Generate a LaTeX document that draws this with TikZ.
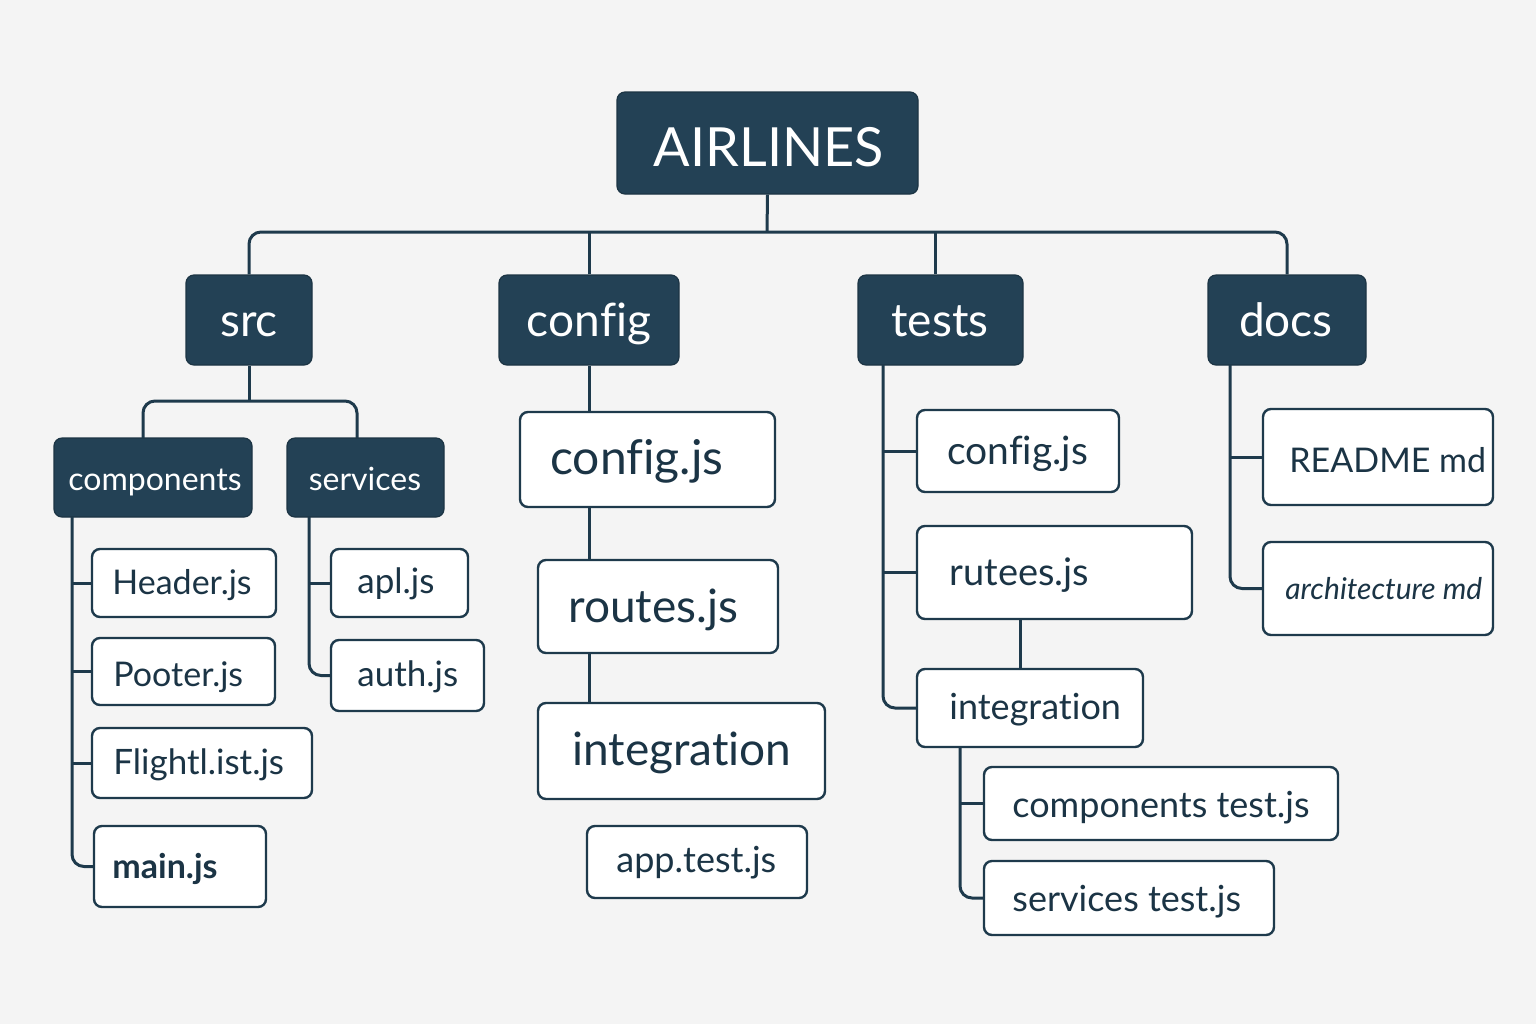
\documentclass[tikz,border=0pt]{standalone}
\usepackage{fontspec}
\setmainfont{Lato}[Ligatures=NoCommon]
\definecolor{bg}{HTML}{F4F4F4}
\definecolor{navy}{HTML}{234155}
\definecolor{ink}{HTML}{1B3445}
\definecolor{wire}{HTML}{1E3A4C}
\tikzset{
  darkbox/.style={fill=navy, draw=navy!80!black, line width=0.6pt, rounded corners=4pt, inner sep=0pt},
  leafbox/.style={fill=white, draw=wire, line width=1.2pt, rounded corners=4pt, inner sep=0pt},
  conn/.style={draw=wire, line width=1.5pt},
  rconn/.style={conn, rounded corners=6pt},
}
\newcommand\bx[6]{%
  \pgfmathsetmacro\bw{(#5-#3)*0.5}\pgfmathsetmacro\bh{(#6-#4)*0.5}%
  \node[#1, minimum width=\bw pt, minimum height=\bh pt] (#2) at ({(#3+#5)/2},{(#4+#6)/2}) {};}
\newcommand\tx[7]{%
  \node[anchor=#2, inner sep=0pt, text=#7, font=\fontsize{#5}{#5}\selectfont] (#1) at (#3,#4) {#6};}
\begin{document}
\begin{tikzpicture}[x=0.5pt,y=-0.5pt]
\useasboundingbox (0,0) rectangle (1536,1024);
\fill[bg] (0,0) rectangle (1536,1024);
% boxes
\bx{darkbox}{root}{617}{92}{918}{194}
\bx{darkbox}{src}{186}{275}{312}{365}
\bx{darkbox}{config}{499}{275}{679}{365}
\bx{darkbox}{tests}{858}{275}{1023}{365}
\bx{darkbox}{docs}{1208}{275}{1366}{365}
\bx{darkbox}{comp}{54}{438}{252}{517}
\bx{darkbox}{serv}{287}{438}{444}{517}
\bx{leafbox}{header}{92}{549}{276}{617}
\bx{leafbox}{pooter}{92}{638}{275}{705}
\bx{leafbox}{flight}{92}{728}{312}{798}
\bx{leafbox}{mainjs}{94}{826}{266}{907}
\bx{leafbox}{apl}{331}{549}{468}{617}
\bx{leafbox}{auth}{331}{640}{484}{711}
\bx{leafbox}{cfgjs}{520}{412}{775}{507}
\bx{leafbox}{routes}{538}{560}{778}{653}
\bx{leafbox}{cint}{538}{703}{825}{799}
\bx{leafbox}{apptest}{587}{826}{807}{898}
\bx{leafbox}{tcfg}{917}{410}{1119}{492}
\bx{leafbox}{trut}{917}{526}{1192}{619}
\bx{leafbox}{tint}{917}{669}{1143}{747}
\bx{leafbox}{cts}{984}{767}{1338}{840}
\bx{leafbox}{sts}{984}{861}{1274}{935}
\bx{leafbox}{readme}{1263}{409}{1493}{505}
\bx{leafbox}{arch}{1263}{542}{1493}{635}
% texts
\tx{roott}{base}{769}{166}{27}{AIRLINES}{white}
\tx{srct}{base}{249}{336}{23}{src}{white}
\tx{configt}{base}{589}{336}{23}{config}{white}
\tx{testst}{base}{940}{336}{23}{tests}{white}
\tx{docst}{base}{1286}{336}{23}{docs}{white}
\tx{compt}{base}{155}{490}{16}{components}{white}
\tx{servt}{base}{365}{490}{16}{services}{white}
\tx{headert}{base west}{112}{594}{17}{Header.js}{ink}
\tx{pootert}{base west}{113}{686}{17}{Pooter.js}{ink}
\tx{flightt}{base west}{113}{774}{17.5}{Flightl.ist.js}{ink}
\tx{maint}{base west}{112}{878}{17}{\bfseries main.js}{ink}
\tx{aplt}{base west}{357}{593}{17.5}{apl.js}{ink}
\tx{autht}{base west}{357}{686}{17.5}{auth.js}{ink}
\tx{cfgjst}{base west}{550}{474}{24}{config.js}{ink}
\tx{routest}{base west}{568}{622}{23}{routes.js}{ink}
\tx{cintt}{base west}{572}{765}{23}{integration}{ink}
\tx{apptestt}{base west}{616}{872}{18}{app.test.js}{ink}
\tx{tcfgt}{base west}{947}{464}{19.5}{config.js}{ink}
\tx{trutt}{base west}{949}{585}{19}{rutees.js}{ink}
\tx{tintt}{base west}{949}{719}{18}{integration}{ink}
\tx{ctst}{base west}{1012}{817}{18}{components test.js}{ink}
\tx{stst}{base west}{1012}{911}{18}{services test.js}{ink}
\tx{readmet}{base west}{1289}{472}{17}{README md}{ink}
\tx{archt}{base west}{1285}{599}{15}{\itshape architecture md}{ink}
% helper coordinates
\coordinate (bus) at (767,232);
\coordinate (sbus) at (250,401);
\coordinate (cv) at (72,517);
\coordinate (sv) at (309,517);
\coordinate (tv) at (883,365);
\coordinate (rt) at (1020,619);
\coordinate (iv) at (960,747);
\coordinate (dv) at (1230,365);
\coordinate (cl) at (143,438);
\coordinate (sl) at (357,438);
% top bus
\draw[rconn] (src.north) |- (bus) -| (docs.north);
\draw[conn] (root.south) -- (bus);
\draw[conn] (config.north) -- (config.north |- bus);
\draw[conn] ([xshift=-2.5pt]tests.north) -- ([xshift=-2.5pt]tests.north |- bus);
% src
\draw[conn] (src.south) -- (src.south |- sbus);
\draw[rconn] (cl) |- (sbus) -| (sl);
\draw[rconn] (cv) |- (mainjs.west);
\draw[conn] (cv |- header.west) -- (header.west);
\draw[conn] (cv |- pooter.west) -- (pooter.west);
\draw[conn] (cv |- flight.west) -- (flight.west);
\draw[rconn] (sv) |- (auth.west);
\draw[conn] (sv |- apl.west) -- (apl.west);
% config
\draw[conn] (config.south) -- (config.south |- cfgjs.north);
\draw[conn] (config.south |- cfgjs.south) -- (config.south |- routes.north);
\draw[conn] (config.south |- routes.south) -- (config.south |- cint.north);
% tests
\draw[rconn] (tv) |- (tint.west);
\draw[conn] (tv |- tcfg.west) -- (tcfg.west);
\draw[conn] (tv |- trut.west) -- (trut.west);
\draw[conn] (rt) -- (rt |- tint.north);
\draw[rconn] (iv) |- (sts.west);
\draw[conn] (iv |- cts.west) -- (cts.west);
% docs
\draw[rconn] (dv) |- (arch.west);
\draw[conn] (dv |- readme.west) -- (readme.west);
\end{tikzpicture}
\end{document}
